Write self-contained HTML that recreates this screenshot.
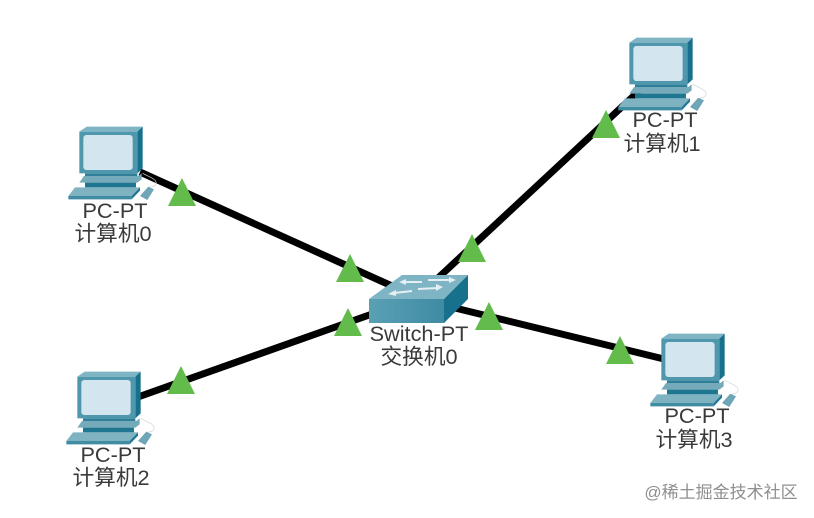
<!DOCTYPE html>
<html><head><meta charset="utf-8"><style>
html,body{margin:0;padding:0;background:#fff}
svg{display:block}
text{font-family:"Liberation Sans","Noto Sans CJK SC",sans-serif;font-size:21.7px;fill:#3a3a3a;text-anchor:middle}
</style></head><body>
<svg width="814" height="518" viewBox="0 0 814 518" xmlns="http://www.w3.org/2000/svg">
<defs>
<linearGradient id="front" x1="0" y1="0" x2="1" y2="0"><stop offset="0" stop-color="#5aa0b5"/><stop offset="1" stop-color="#3f8ba3"/></linearGradient>
<g id="pc" transform="scale(.3333)">
<path d="M58 35L80 20H248L232 35Z" fill="#7fb4c4"/>
<path d="M232 35L248 20V145L232 160Z" fill="#17708c"/>
<rect x="58" y="35" width="174" height="125" fill="#4f97ad"/>
<rect x="70" y="45" width="148" height="105" rx="9" fill="#d3e5ee"/>
<path d="M75 160H232V172H75Z" fill="#2f7f98"/>
<path d="M72 168H235L245 160V178L232 188H58Z" fill="#74aaba"/>
<path d="M75 188H228V202H75Z" fill="#1f7690"/>
<path d="M45 202H240L215 228H25Z" fill="#7fb3c2"/>
<path d="M25 228H215V238H25Z" fill="#3f8ca3"/>
<path d="M215 228L240 202V212L215 238Z" fill="#1f7690"/>
<path d="M240 228L265 200L282 208L262 240Z" fill="#6ea6b7"/>
<path d="M248 160C270 172 292 178 288 192C284 202 270 200 268 202" fill="none" stroke="#c9d6da" stroke-width="2"/>
</g>
</defs>
<g stroke="#000" stroke-width="7" fill="none">
<line x1="140" y1="172" x2="392" y2="286"/>
<line x1="640" y1="90" x2="438" y2="278"/>
<line x1="138" y1="397" x2="372" y2="314"/>
<line x1="455" y1="308" x2="668" y2="360"/>
</g>
<use href="#pc" x="60" y="120"/>
<use href="#pc" x="610" y="31"/>
<use href="#pc" x="58" y="365"/>
<use href="#pc" x="642" y="327"/>
<!-- switch -->
<path d="M369 299L402 275H468L444 299Z" fill="#7fb4c4"/>
<path d="M444 299L468 275V299L444 323Z" fill="#17708c"/>
<rect x="369" y="299" width="75" height="24" fill="url(#front)"/>
<g stroke="#e4eff3" stroke-width="2" fill="none">
<line x1="404" y1="282" x2="422" y2="282"/>
<line x1="428" y1="280" x2="452" y2="280"/>
<line x1="394" y1="293" x2="412" y2="291"/>
<line x1="418" y1="289" x2="438" y2="288"/>
</g>
<g fill="#e4eff3">
<path d="M399 282L406 279V285Z"/>
<path d="M456 280L449 277V283Z"/>
<path d="M388 294L396 290V296Z"/>
<path d="M443 287L436 284V291Z"/>
</g>
<g fill="#62bb4b">
<path d="M182 178L196 206H168Z"/>
<path d="M350 254L364 282H336Z"/>
<path d="M348 308L362 336H334Z"/>
<path d="M181 366L195 394H167Z"/>
<path d="M472 234L486 262H458Z"/>
<path d="M489 302L503 330H475Z"/>
<path d="M606 110L620 138H592Z"/>
<path d="M620 336L634 364H606Z"/>
</g>
<text x="115" y="218">PC-PT</text>
<text x="113" y="241">计算机0</text>
<text x="665" y="127">PC-PT</text>
<text x="662" y="151">计算机1</text>
<text x="113" y="462">PC-PT</text>
<text x="111" y="485">计算机2</text>
<text x="697" y="423">PC-PT</text>
<text x="694" y="447">计算机3</text>
<text x="419" y="341">Switch-PT</text>
<text x="419" y="364">交换机0</text>
<text x="721" y="498" style="font-size:17px;fill:#8f8f8f">@稀土掘金技术社区</text>
</svg>
</body></html>
